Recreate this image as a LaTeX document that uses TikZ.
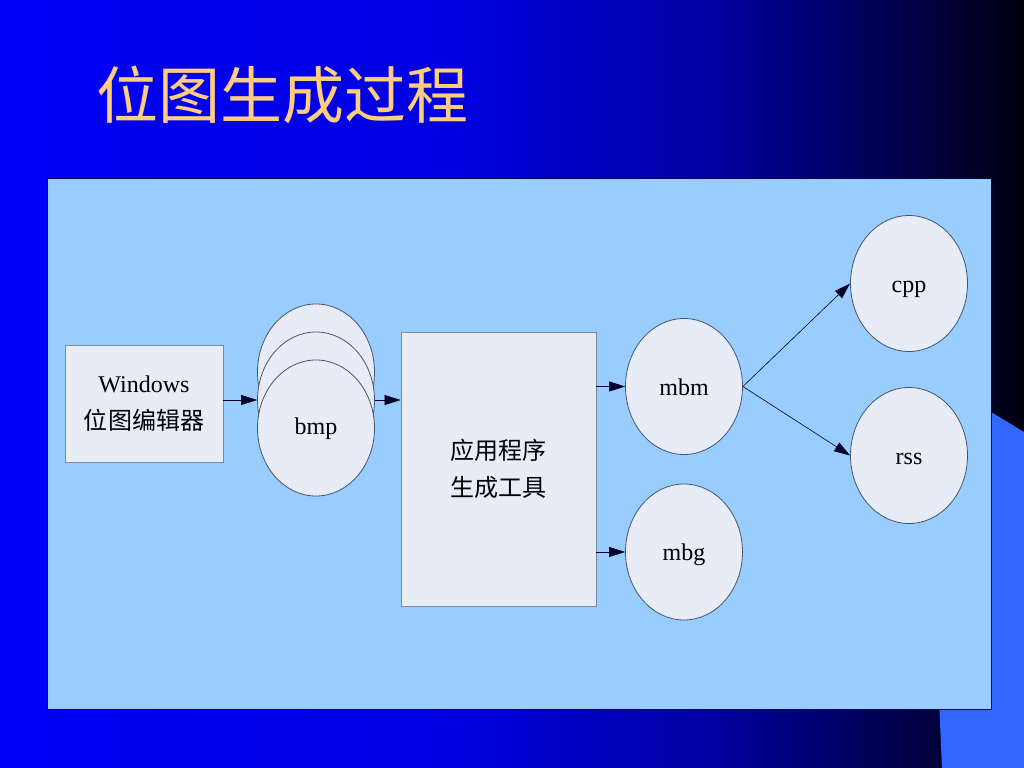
\documentclass[tikz,border=0pt]{standalone}
\usepackage{fontspec}
\setmainfont{Liberation Serif}
\newfontfamily\cjk{Noto Sans CJK SC}
\usetikzlibrary{shapes.geometric,arrows.meta,calc}
\definecolor{panelblue}{RGB}{153,204,255}
\definecolor{nodefill}{RGB}{232,236,246}
\definecolor{nodeline}{RGB}{70,85,110}
\definecolor{accent}{RGB}{51,102,255}
\definecolor{titlecol}{RGB}{255,204,128}
\definecolor{bgA}{RGB}{0,0,250}
\definecolor{bgB}{RGB}{0,0,225}
\definecolor{bgC}{RGB}{0,0,160}
\definecolor{bgD}{RGB}{0,0,75}
\definecolor{bgE}{RGB}{0,0,15}
\pgfdeclarehorizontalshading{bgshade}{100bp}{color(0bp)=(bgA); color(25bp)=(bgA); color(47bp)=(bgB); color(60bp)=(bgC); color(69bp)=(bgD); color(75bp)=(bgE); color(100bp)=(bgE)}
\tikzset{
  txt/.style={font=\fontsize{24bp}{37bp}\selectfont, text=black, align=center},
  boxnode/.style={txt, draw=nodeline!70, fill=nodefill, line width=0.8bp, inner sep=0pt},
  ellnode/.style={txt, ellipse, draw=nodeline, fill=nodefill, line width=0.8bp, inner sep=0pt, minimum width=117bp, minimum height=136bp, text height=17bp, text depth=0bp},
  arr/.style={draw=black!85!blue, line width=0.6bp, -{Triangle[length=16bp,width=10bp]}}
}
\begin{document}
\begin{tikzpicture}[x=1bp,y=-1bp]
\useasboundingbox (0,0) rectangle (1024,768);
% background
\shade[shading=bgshade] (0,0) rectangle (1024,768);
\fill[accent] (991,412) -- (1024,432) -- (1024,768) -- (942,768) -- (939,700) -- cycle;
% title
\node[anchor=west, text=titlecol, font=\cjk\fontsize{62bp}{62bp}\selectfont, inner sep=0pt] (title) at (96,95) {位图生成过程};
% panel
\fill[panelblue, draw=black!70!blue, line width=0.8bp] (47,178) rectangle (991,709);
% nodes
\node[boxnode, minimum width=158bp, minimum height=117bp] (win) at (144,403.5) {Windows\\{\cjk 位图编辑器}};
\node[ellnode] (bmp1) at (316,372) {};
\node[ellnode] (bmp2) at (316,400) {};
\node[ellnode, text height=13bp] (bmp3) at (316,428) {bmp};
\node[boxnode, minimum width=195bp, minimum height=274bp] (app) at (498.5,469) {\cjk 应用程序\\\cjk 生成工具};
\node[ellnode] (mbm) at (684,386.5) {mbm};
\node[ellnode] (mbg) at (684,552) {mbg};
\node[ellnode] (cpp) at (909,283.5) {cpp};
\node[ellnode] (rss) at (909,455.5) {rss};
% connectors
\draw[arr] (win.east |- bmp2) -- (bmp2.west);
\draw[arr] (bmp2.east) -- (app.west |- bmp2);
\draw[arr] (app.east |- mbm) -- (mbm.west);
\draw[arr] (app.east |- mbg) -- (mbg.west);
\draw[arr] (mbm.east) -- (cpp.west);
\draw[arr] (mbm.east) -- (rss.west);
\end{tikzpicture}
\end{document}
